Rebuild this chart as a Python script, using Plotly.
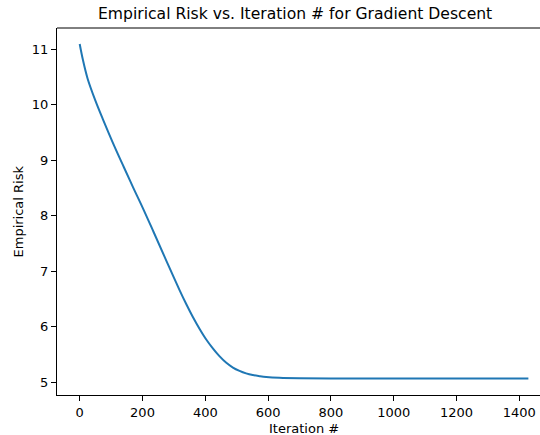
import plotly.graph_objects as go

# Values
iterations = [0, 10, 25, 50, 75, 105, 140, 170, 200, 235, 275, 318, 340, 360, 382, 403,
              424, 445, 467, 488, 509, 530, 551, 573, 594, 636, 700, 800, 1000, 1200, 1429]
risk = [11.09, 10.81, 10.47, 10.07, 9.72, 9.32, 8.88, 8.51, 8.15, 7.71, 7.20, 6.66, 6.40, 6.18, 5.96, 5.77,
        5.61, 5.47, 5.35, 5.265, 5.205, 5.16, 5.13, 5.11, 5.095, 5.08, 5.072, 5.07, 5.07, 5.07, 5.07]

x_ticks = [0, 200, 400, 600, 800, 1000, 1200, 1400]
y_ticks = [5, 6, 7, 8, 9, 10, 11]

title_text = "Empirical Risk vs. Iteration # for Gradient Descent"
x_label = "Iteration #"
y_label = "Empirical Risk"

W, H = 540, 435
L, R, T, B = 57, 0, 28, 40

FONT = "DejaVu Sans"

fig = go.Figure()
fig.add_trace(go.Scatter(
    x=iterations, y=risk, mode="lines",
    line=dict(color="#1f77b4", width=2, shape="spline", smoothing=1.0),
    showlegend=False, hoverinfo="skip",
))

axis_common = dict(
    showgrid=False, zeroline=False, automargin=False,
    showline=True, linecolor="black", linewidth=1,
    ticks="outside", ticklen=5, tickwidth=1, tickcolor="black",
    tickfont=dict(family=FONT, size=13, color="black"),
)

fig.update_layout(
    width=W, height=H,
    margin=dict(l=L, r=R, t=T, b=B, autoexpand=False),
    paper_bgcolor="white", plot_bgcolor="white",
    font=dict(family=FONT, color="black"),
    xaxis=dict(range=[-72.3, 1466], tickvals=x_ticks, **axis_common),
    yaxis=dict(range=[4.771, 11.378], tickvals=y_ticks, **axis_common),
    shapes=[dict(type="line", xref="paper", yref="paper", x0=0, x1=1, y0=1, y1=1,
                 line=dict(color="black", width=1))],
    annotations=[
        dict(text=title_text, xref="paper", yref="paper",
             x=(294.5 - L) / (W - L - R), y=1 + (T - 14) / (H - T - B),
             xanchor="center", yanchor="middle", showarrow=False,
             font=dict(family=FONT, size=15.6, color="black")),
        dict(text=x_label, xref="paper", yref="paper",
             x=(303.5 - L) / (W - L - R), y=-(428 - (H - B)) / (H - T - B),
             xanchor="center", yanchor="middle", showarrow=False,
             font=dict(family=FONT, size=13, color="black")),
        dict(text=y_label, xref="paper", yref="paper", textangle=-90,
             x=-(L - 18) / (W - L - R), y=0.5,
             xanchor="center", yanchor="middle", showarrow=False,
             font=dict(family=FONT, size=13, color="black")),
    ],
)

fig.write_html(
    "out.html",
    config={"displayModeBar": False, "staticPlot": True},
    post_script="document.body.style.margin='0';document.body.style.overflow='hidden';",
)
